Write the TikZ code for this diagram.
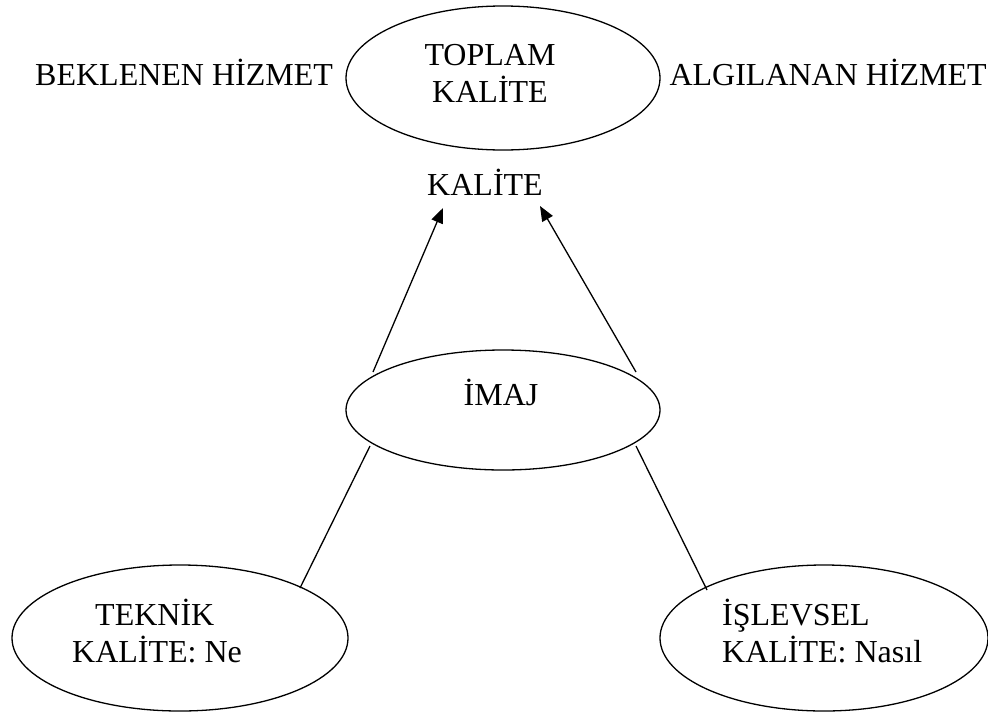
\documentclass[tikz,border=0pt]{standalone}
\usepackage{fontspec}
\setmainfont{Liberation Serif}
\usetikzlibrary{shapes.geometric,arrows.meta}
\begin{document}
\begin{tikzpicture}[x=1pt,y=-1pt,
  oval/.style={draw,line width=1.3pt,ellipse,inner sep=0pt},
  txt/.style={inner sep=0pt,font=\fontsize{32}{37}\selectfont},
  link/.style={line width=1.3pt},
  arr/.style={line width=1.3pt,-{Triangle[length=15pt,width=12pt]}}]
\useasboundingbox (0,0) rectangle (988,713);
% ellipses
\node[oval,minimum width=314pt,minimum height=144pt] (top) at (503,78) {};
\node[oval,minimum width=314pt,minimum height=120pt] (imaj) at (503,410) {};
\node[oval,minimum width=336pt,minimum height=146pt] (tek) at (180,638) {};
\node[oval,minimum width=328pt,minimum height=146pt] (isl) at (824,638) {};
% texts
\node[txt,anchor=base] (t1) at (490,65) {TOPLAM};
\node[txt,anchor=base] (t2) at (490,102) {KALİTE};
\node[txt,anchor=base west] (bek) at (35,85) {BEKLENEN HİZMET};
\node[txt,anchor=base east] (alg) at (987,85) {ALGILANAN HİZMET};
\node[txt,anchor=base] (kal) at (485,195) {KALİTE};
\node[txt,anchor=base] (im) at (501,405) {İMAJ};
\node[txt,anchor=base west] (te1) at (95,625) {TEKNİK};
\node[txt,anchor=base west] (te2) at (72,662) {KALİTE: Ne};
\node[txt,anchor=base west] (is1) at (722,625) {İŞLEVSEL};
\node[txt,anchor=base west] (is2) at (722,662) {KALİTE: Nasıl};
% connector end points
\coordinate (a1) at (373,372);
\coordinate (a1t) at (443,208);
\coordinate (a2) at (636,372);
\coordinate (a2t) at (540,206);
\coordinate (b1) at (370,446);
\coordinate (b1e) at (300,588);
\coordinate (b2) at (636,446);
\coordinate (b2e) at (707,590);
\draw[arr] (a1) -- (a1t);
\draw[arr] (a2) -- (a2t);
\draw[link] (b1) -- (b1e);
\draw[link] (b2) -- (b2e);
\end{tikzpicture}
\end{document}
